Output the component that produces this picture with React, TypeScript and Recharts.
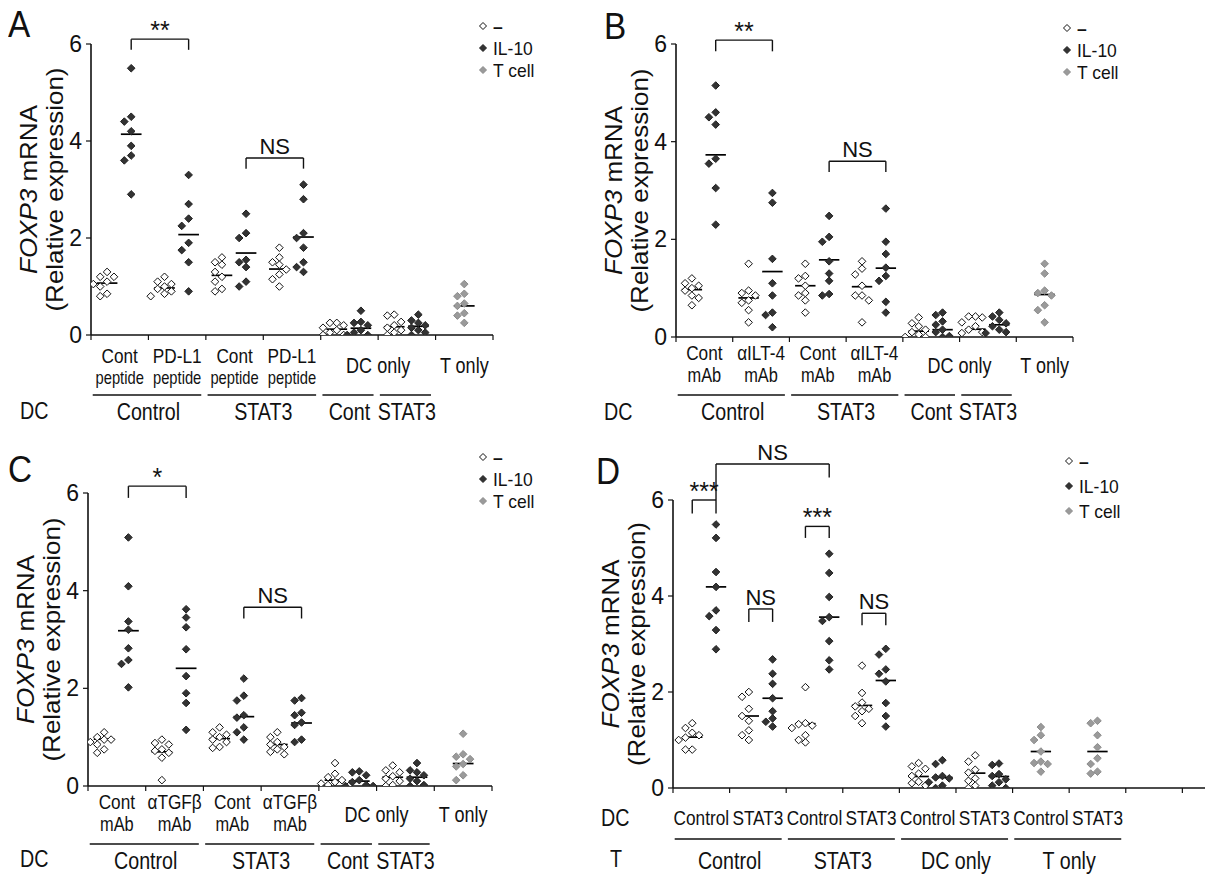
import React from 'react';
import { ScatterChart, Scatter, XAxis, YAxis, ReferenceLine, ReferenceDot } from 'recharts';

const FONT = "'Liberation Sans', Arial, Helvetica, sans-serif";
const SX = 0.82; // horizontal condensing of label text

// ---------------- Panel A ----------------
const A_NONE = [
  [1.3, 1.2, 1.2, 1.1, 1.05, 1.0, 0.85, 0.8],
  [1.2, 1.1, 1.05, 1.0, 0.95, 0.9, 0.85, 0.8],
  [1.6, 1.5, 1.45, 1.3, 1.2, 1.1, 0.95, 0.9],
  [1.8, 1.6, 1.5, 1.45, 1.35, 1.25, 1.15, 1.0],
  [0.25, 0.25, 0.2, 0.15, 0.1, 0.05, 0.0, 0.0],
  [0.42, 0.4, 0.27, 0.2, 0.15, 0.1, 0.05, 0.0],
];
const A_IL10 = [
  [5.5, 4.5, 4.4, 4.2, 3.9, 3.7, 3.6, 2.9],
  [3.3, 2.7, 2.4, 2.25, 1.9, 1.75, 1.5, 0.9],
  [2.5, 2.1, 2.0, 1.55, 1.5, 1.4, 1.1, 1.0],
  [3.1, 2.8, 2.1, 2.0, 1.8, 1.5, 1.4, 1.3],
  [0.5, 0.27, 0.25, 0.2, 0.1, 0.05, 0.0, 0.0],
  [0.42, 0.3, 0.25, 0.2, 0.15, 0.1, 0.05, 0.0],
];
const A_TCELL = [[1.05, 0.85, 0.8, 0.65, 0.6, 0.45, 0.4, 0.25]];
const A_NONE_MED = [1.07, 0.97, 1.23, 1.36, 0.12, 0.17];
const A_IL10_MED = [4.14, 2.07, 1.69, 2.02, 0.14, 0.18];
const A_TCELL_MED = [0.6];
const A_CATS = [['Cont', 'peptide'], ['PD-L1', 'peptide'], ['Cont', 'peptide'], ['PD-L1', 'peptide'], ['DC only'], ['T only']];
const A_GROUPS = ['Control', 'STAT3', 'Cont', 'STAT3'];
const A_BRACKETS = [
  { x1: 0.7, x2: 1.7, y: 6.1, l1: 5.88, l2: 5.88, text: '**' },
  { x1: 2.7, x2: 3.7, y: 3.65, l1: 3.43, l2: 3.43, text: 'NS' },
];

// ---------------- Panel B ----------------
const B_NONE = [
  [1.2, 1.1, 1.05, 1.0, 0.95, 0.85, 0.8, 0.65],
  [1.5, 0.95, 0.9, 0.85, 0.75, 0.7, 0.55, 0.3],
  [1.5, 1.25, 1.2, 1.05, 0.9, 0.85, 0.75, 0.5],
  [1.55, 1.4, 1.28, 1.05, 0.85, 0.85, 0.75, 0.3],
  [0.4, 0.28, 0.22, 0.15, 0.1, 0.05, 0.0, 0.0],
  [0.42, 0.42, 0.4, 0.3, 0.22, 0.15, 0.1, 0.08],
];
const B_IL10 = [
  [5.15, 4.6, 4.5, 4.35, 3.65, 3.55, 3.05, 2.3],
  [2.95, 2.75, 1.6, 1.1, 0.85, 0.5, 0.45, 0.2],
  [2.48, 2.05, 1.95, 1.55, 1.3, 1.15, 0.88, 0.85],
  [2.63, 1.95, 1.7, 1.42, 1.25, 1.15, 0.72, 0.5],
  [0.5, 0.45, 0.32, 0.25, 0.15, 0.1, 0.02, 0.0],
  [0.5, 0.42, 0.35, 0.28, 0.22, 0.15, 0.1, 0.08],
];
const B_TCELL = [[1.5, 1.3, 0.95, 0.9, 0.85, 0.65, 0.55, 0.3]];
const B_NONE_MED = [0.97, 0.8, 1.05, 1.03, 0.12, 0.16];
const B_IL10_MED = [3.73, 1.34, 1.58, 1.41, 0.15, 0.25];
const B_TCELL_MED = [0.87];
const B_CATS = [['Cont', 'mAb'], ['\u03b1ILT-4', 'mAb'], ['Cont', 'mAb'], ['\u03b1ILT-4', 'mAb'], ['DC only'], ['T only']];
const B_GROUPS = ['Control', 'STAT3', 'Cont', 'STAT3'];
const B_BRACKETS = [
  { x1: 0.7, x2: 1.7, y: 6.08, l1: 5.85, l2: 5.85, text: '**' },
  { x1: 2.7, x2: 3.7, y: 3.6, l1: 3.38, l2: 3.38, text: 'NS' },
];

// ---------------- Panel C ----------------
const C_NONE = [
  [1.1, 1.0, 0.95, 0.95, 0.9, 0.85, 0.75, 0.68],
  [0.95, 0.88, 0.85, 0.75, 0.72, 0.68, 0.58, 0.12],
  [1.2, 1.1, 1.05, 1.0, 0.95, 0.9, 0.8, 0.78],
  [1.1, 1.0, 0.9, 0.85, 0.8, 0.75, 0.7, 0.65],
  [0.47, 0.25, 0.18, 0.12, 0.08, 0.05, 0.02, 0.0],
  [0.42, 0.32, 0.28, 0.2, 0.15, 0.1, 0.02, 0.0],
];
const C_IL10 = [
  [5.09, 4.09, 3.37, 3.2, 2.82, 2.58, 2.5, 2.02],
  [3.62, 3.45, 3.25, 2.8, 2.25, 1.9, 1.7, 1.15],
  [2.2, 1.85, 1.75, 1.45, 1.4, 1.2, 1.1, 0.95],
  [1.8, 1.75, 1.5, 1.45, 1.3, 1.25, 0.95, 0.9],
  [0.3, 0.28, 0.22, 0.12, 0.08, 0.02, 0.0, 0.0],
  [0.47, 0.32, 0.28, 0.22, 0.15, 0.1, 0.02, 0.0],
];
const C_TCELL = [[1.07, 0.65, 0.6, 0.55, 0.45, 0.4, 0.22, 0.12]];
const C_NONE_MED = [0.96, 0.7, 0.97, 0.85, 0.12, 0.18];
const C_IL10_MED = [3.18, 2.41, 1.42, 1.29, 0.1, 0.18];
const C_TCELL_MED = [0.46];
const C_CATS = [['Cont', 'mAb'], ['\u03b1TGF\u03b2', 'mAb'], ['Cont', 'mAb'], ['\u03b1TGF\u03b2', 'mAb'], ['DC only'], ['T only']];
const C_GROUPS = ['Control', 'STAT3', 'Cont', 'STAT3'];
const C_BRACKETS = [
  { x1: 0.7, x2: 1.7, y: 6.14, l1: 5.9, l2: 5.9, text: '*' },
  { x1: 2.7, x2: 3.7, y: 3.66, l1: 3.43, l2: 3.43, text: 'NS' },
];

// ---------------- Panel D ----------------
const D_NONE = [
  [1.35, 1.25, 1.15, 1.1, 1.05, 1.0, 0.8, 0.8],
  [2.0, 1.9, 1.65, 1.5, 1.4, 1.2, 1.1, 1.0],
  [2.1, 1.35, 1.33, 1.3, 1.25, 1.1, 1.0, 0.95],
  [2.55, 1.98, 1.78, 1.7, 1.65, 1.6, 1.5, 1.35],
  [0.52, 0.45, 0.4, 0.3, 0.25, 0.13, 0.1, 0.05],
  [0.68, 0.55, 0.38, 0.32, 0.2, 0.15, 0.05, 0.0],
];
const D_IL10 = [
  [5.49, 5.21, 4.5, 4.19, 3.7, 3.58, 3.29, 2.89],
  [2.68, 2.38, 2.17, 1.87, 1.6, 1.45, 1.38, 1.28],
  [4.88, 4.48, 3.98, 3.56, 3.48, 3.06, 2.66, 2.47],
  [2.9, 2.78, 2.47, 2.38, 2.22, 1.77, 1.5, 1.28],
  [0.58, 0.5, 0.25, 0.22, 0.2, 0.12, 0.05, 0.0],
  [0.51, 0.48, 0.29, 0.25, 0.18, 0.12, 0.05, 0.0],
];
const D_TCELL = [
  [1.27, 1.1, 1.0, 0.76, 0.55, 0.52, 0.5, 0.34],
  [1.4, 1.35, 1.1, 0.85, 0.62, 0.5, 0.34, 0.3],
];
const D_NONE_MED = [1.06, 1.5, 1.34, 1.72, 0.24, 0.31];
const D_IL10_MED = [4.19, 1.87, 3.56, 2.24, 0.22, 0.24];
const D_TCELL_MED = [0.76, 0.76];
const D_CATS = [['Control'], ['STAT3'], ['Control'], ['STAT3'], ['Control'], ['STAT3'], ['Control'], ['STAT3']];
const D_GROUPS = ['Control', 'STAT3', 'DC only', 'T only'];
const D_BRACKETS = [
  { x1: 0.34, x2: 0.76, y: 6.0, l1: 5.72, l2: 5.72, text: '***' },
  { x1: 0.76, x2: 2.76, y: 6.75, l1: 6.0, l2: 6.47, text: 'NS' },
  { x1: 1.34, x2: 1.76, y: 3.73, l1: 3.46, l2: 3.46, text: 'NS' },
  { x1: 2.34, x2: 2.76, y: 5.45, l1: 5.21, l2: 5.21, text: '***' },
  { x1: 3.34, x2: 3.76, y: 3.64, l1: 3.39, l2: 3.39, text: 'NS' },
];

const LEGEND_LABELS = ['\u2013', 'IL-10', 'T cell'];
const Y_TICKS = [0, 2, 4, 6];

// ---------------- helpers ----------------
type Pt = { x: number; y: number };

function swarm(values: number[], center: number, dy = 0.15, dx = 0.12): Pt[] {
  const placed: Pt[] = [];
  const sorted = [...values].sort((a, b) => b - a);
  const cands = [0, -1, 1, -2, 2, -3, 3];
  for (const v of sorted) {
    let done = false;
    for (const c of cands) {
      const x = center + c * dx;
      const ok = placed.every((p) => Math.abs(p.y - v) >= dy || Math.abs(p.x - x) >= dx * 0.99);
      if (ok) {
        placed.push({ x, y: v });
        done = true;
        break;
      }
    }
    if (!done) placed.push({ x: center, y: v });
  }
  return placed;
}

const makeDiamond = (fill: string, stroke: string, r = 3.8) => (props: any) => {
  const { cx, cy } = props;
  if (cx == null || cy == null) return <g />;
  return (
    <polygon
      points={`${cx},${cy - r} ${cx + r},${cy} ${cx},${cy + r} ${cx - r},${cy}`}
      fill={fill}
      stroke={stroke}
      strokeWidth={1}
    />
  );
};
const OPEN = makeDiamond('#ffffff', '#111111');
const FILLED = makeDiamond('#333333', '#222222');
const GREY = makeDiamond('#9a9a9a', '#8c8c8c');

type Line = { s: string; dy: number; size: number };
const CText = ({ x, y, lines }: { x: number; y: number; lines: Line[] }) => (
  <text
    x={0}
    y={0}
    transform={`translate(${x},${y}) scale(${SX},1)`}
    textAnchor="middle"
    dominantBaseline="central"
    fill="#111"
  >
    {lines.map((l, i) => (
      <tspan key={i} x={0} y={l.dy} fontSize={l.size}>
        {l.s}
      </tspan>
    ))}
  </text>
);

type Bracket = { x1: number; x2: number; y: number; l1: number; l2: number; text: string };
type Lab = { l1: number; l2: number; mid: number; ul: number; grp: number; fs1: number; fs2: number; fsMid: number; fsGrp: number };

type PanelProps = {
  left: number;
  top: number;
  width: number;
  height: number;
  plotLeft: number;
  plotRight: number;
  plotTop: number;
  plotBottom: number;
  xMax: number;
  xTicks: number[];
  none: number[][];
  il10: number[][];
  tcell: number[][];
  noneMed: number[];
  il10Med: number[];
  tcellMed: number[];
  noneOff: number;
  il10Off: number;
  tcellPos: number[];
  cats: string[][];
  catPos: number[];
  groups: string[];
  groupSpans: number[][];
  groupCenters: number[];
  brackets: Bracket[];
  lab: Lab;
};

const H_AXIS = 96;
const YW = 60;

function Panel(p: PanelProps) {
  const ppu = (p.plotRight - p.plotLeft) / p.xMax;
  const noneData: Pt[] = [];
  const il10Data: Pt[] = [];
  const tData: Pt[] = [];
  p.none.forEach((vals, i) => noneData.push(...swarm(vals, i + p.noneOff)));
  p.il10.forEach((vals, i) => il10Data.push(...swarm(vals, i + p.il10Off)));
  p.tcell.forEach((vals, i) => tData.push(...swarm(vals, p.tcellPos[i])));

  const medians: { x: number; y: number }[] = [];
  p.noneMed.forEach((m, i) => medians.push({ x: i + p.noneOff, y: m }));
  p.il10Med.forEach((m, i) => medians.push({ x: i + p.il10Off, y: m }));
  p.tcellMed.forEach((m, i) => medians.push({ x: p.tcellPos[i], y: m }));

  const margin = {
    top: p.plotTop - p.top,
    right: p.left + p.width - p.plotRight,
    left: p.plotLeft - p.left - YW,
    bottom: p.top + p.height - p.plotBottom - H_AXIS,
  };

  const allTicks = Array.from(new Set([...p.xTicks, ...p.catPos, ...p.groupCenters])).sort((a, b) => a - b);

  const AxisTick = (props: any) => {
    const { x, y, payload } = props;
    const v = payload.value;
    const base = y;
    const els: React.ReactNode[] = [];
    if (p.xTicks.includes(v)) {
      els.push(<line key="t" x1={x} x2={x} y1={base} y2={base + 5} stroke="#111" strokeWidth={1.2} />);
    }
    const ci = p.catPos.indexOf(v);
    if (ci >= 0) {
      const lines = p.cats[ci];
      if (lines.length === 2) {
        els.push(
          <CText key="c1" x={x} y={base} lines={[{ s: lines[0], dy: p.lab.l1, size: p.lab.fs1 }]} />,
          <CText key="c2" x={x} y={base} lines={[{ s: lines[1], dy: p.lab.l2, size: p.lab.fs2 }]} />
        );
      } else {
        els.push(<CText key="c0" x={x} y={base} lines={[{ s: lines[0], dy: p.lab.mid, size: p.lab.fsMid }]} />);
      }
    }
    const gi = p.groupCenters.indexOf(v);
    if (gi >= 0) {
      const [s, e] = p.groupSpans[gi];
      const x0 = x + (s + 0.03 - v) * ppu;
      const x1 = x + (e - 0.08 - v) * ppu;
      els.push(
        <line key="u" x1={x0} x2={x1} y1={base + p.lab.ul} y2={base + p.lab.ul} stroke="#111" strokeWidth={1.4} />,
        <CText key="g" x={x} y={base} lines={[{ s: p.groups[gi], dy: p.lab.grp, size: p.lab.fsGrp }]} />
      );
    }
    return <g>{els}</g>;
  };

  const YLabel = (props: any) => {
    const vb = props.viewBox || { x: 0, y: 0, width: 0, height: 0 };
    const ax = vb.x + vb.width;
    const cy = vb.y + vb.height / 2;
    return (
      <g>
        <text transform={`translate(${ax - 63},${cy}) rotate(-90) scale(1,0.9)`} textAnchor="middle" dominantBaseline="central" fontSize={26} fill="#111">
          <tspan fontStyle="italic">FOXP3</tspan>
          <tspan> mRNA</tspan>
        </text>
        <text transform={`translate(${ax - 36},${cy}) rotate(-90) scale(1,0.9)`} textAnchor="middle" dominantBaseline="central" fontSize={26} fill="#111">
          (Relative expression)
        </text>
      </g>
    );
  };

  return (
    <div style={{ position: 'absolute', left: p.left, top: p.top }}>
      <ScatterChart width={p.width} height={p.height} margin={margin}>
        <XAxis
          xAxisId="main"
          type="number"
          dataKey="x"
          domain={[0, p.xMax]}
          ticks={allTicks}
          allowDataOverflow
          interval={0}
          height={H_AXIS}
          tickSize={0}
          tickMargin={0}
          tick={AxisTick}
          axisLine={{ stroke: '#111', strokeWidth: 1.6 }}
          tickLine={false}
        />
        <YAxis
          type="number"
          dataKey="y"
          domain={[0, 6]}
          ticks={Y_TICKS}
          allowDataOverflow
          width={YW}
          tickSize={5}
          tickMargin={4}
          tick={{ fontSize: 23, fill: '#111' }}
          axisLine={{ stroke: '#111', strokeWidth: 1.6 }}
          tickLine={{ stroke: '#111', strokeWidth: 1.2 }}
          label={{ content: YLabel }}
        />
        <Scatter xAxisId="main" name="-" data={noneData} shape={OPEN} isAnimationActive={false} />
        <Scatter xAxisId="main" name="IL-10" data={il10Data} shape={FILLED} isAnimationActive={false} />
        <Scatter xAxisId="main" name="T cell" data={tData} shape={GREY} isAnimationActive={false} />
        {medians.map((m, i) => (
          <ReferenceLine
            key={`m${i}`}
            xAxisId="main"
            segment={[{ x: m.x - 0.18, y: m.y }, { x: m.x + 0.18, y: m.y }]}
            stroke="#000"
            strokeWidth={1.7}
            ifOverflow="visible"
          />
        ))}
        {p.brackets.map((b, i) => [
          <ReferenceLine key={`bl${i}`} xAxisId="main" segment={[{ x: b.x1, y: b.l1 }, { x: b.x1, y: b.y }]} stroke="#111" strokeWidth={1.4} ifOverflow="visible" />,
          <ReferenceLine key={`bt${i}`} xAxisId="main" segment={[{ x: b.x1, y: b.y }, { x: b.x2, y: b.y }]} stroke="#111" strokeWidth={1.4} ifOverflow="visible" />,
          <ReferenceLine key={`br${i}`} xAxisId="main" segment={[{ x: b.x2, y: b.y }, { x: b.x2, y: b.l2 }]} stroke="#111" strokeWidth={1.4} ifOverflow="visible" />,
          <ReferenceDot
            key={`bd${i}`}
            xAxisId="main"
            x={(b.x1 + b.x2) / 2}
            y={b.y}
            r={0}
            fill="none"
            stroke="none"
            ifOverflow="visible"
            label={{ value: b.text, position: 'top', offset: b.text === 'NS' ? 4 : 0, fontSize: b.text === 'NS' ? 22 : 25, fill: '#111' }}
          />,
        ])}
      </ScatterChart>
    </div>
  );
}

const Legend3 = ({ x, y, gap }: { x: number; y: number; gap: number }) => {
  const shapes = [
    { fill: '#fff', stroke: '#111' },
    { fill: '#333', stroke: '#222' },
    { fill: '#9a9a9a', stroke: '#8c8c8c' },
  ];
  return (
    <div style={{ position: 'absolute', left: x, top: y }}>
      {LEGEND_LABELS.map((t, i) => (
        <div key={t} style={{ position: 'absolute', left: 0, top: i * gap, height: 20, whiteSpace: 'nowrap', display: 'flex', alignItems: 'center' }}>
          <svg width={10} height={10} style={{ marginRight: 5 }}>
            <polygon points="5,1.5 8.5,5 5,8.5 1.5,5" fill={shapes[i].fill} stroke={shapes[i].stroke} strokeWidth={1} />
          </svg>
          <span
            style={{
              display: 'inline-block',
              fontSize: 19,
              lineHeight: '19px',
              color: '#111',
              fontWeight: i === 0 ? 700 : 400,
              transform: 'scaleX(0.92)',
              transformOrigin: 'left center',
            }}
          >
            {t}
          </span>
        </div>
      ))}
    </div>
  );
};

const Txt = ({ x, y, s, size, sx = 1 }: { x: number; y: number; s: string; size: number; sx?: number }) => (
  <div
    style={{
      position: 'absolute',
      left: x,
      top: y,
      fontSize: size,
      lineHeight: 1,
      color: '#111',
      whiteSpace: 'nowrap',
      transform: `scaleX(${sx})`,
      transformOrigin: 'left top',
    }}
  >
    {s}
  </div>
);

const STD_CAT_POS = [0.5, 1.5, 2.5, 3.5, 5, 6.5];
const STD_GROUP_SPANS = [[0, 2], [2, 4], [4, 5], [5, 6]];
const STD_GROUP_CENTERS = [1, 3, 4.5, 5.5];
const STD_TICKS = [0, 1, 2, 3, 4, 5, 6, 7];
const D_CAT_POS = [0.5, 1.5, 2.5, 3.5, 4.5, 5.5, 6.5, 7.5];
const D_GROUP_SPANS = [[0, 2], [2, 4], [4, 6], [6, 8]];
const D_GROUP_CENTERS = [1, 3, 5, 7];
const D_TICKS = [0, 1, 2, 3, 4, 5, 6, 7, 8, 9];

export default function App() {
  const labA: Lab = { l1: 20, l2: 42, mid: 30, ul: 60, grp: 76, fs1: 21, fs2: 18, fsMid: 22, fsGrp: 24 };
  const labB: Lab = { l1: 15, l2: 37, mid: 28, ul: 58, grp: 74, fs1: 21, fs2: 20, fsMid: 22, fsGrp: 24 };
  const labD: Lab = { l1: 17, l2: 35, mid: 29, ul: 51, grp: 72, fs1: 21, fs2: 21, fsMid: 21, fsGrp: 24 };
  return (
    <div style={{ position: 'absolute', left: 0, top: 0, width: 1205, height: 874, background: '#fff', fontFamily: FONT, overflow: 'hidden' }}>
      <Panel
        left={0} top={0} width={600} height={430}
        plotLeft={91} plotRight={493} plotTop={44} plotBottom={335}
        xMax={7} xTicks={STD_TICKS}
        none={A_NONE} il10={A_IL10} tcell={A_TCELL}
        noneMed={A_NONE_MED} il10Med={A_IL10_MED} tcellMed={A_TCELL_MED}
        noneOff={0.28} il10Off={0.7} tcellPos={[6.5]}
        cats={A_CATS} catPos={STD_CAT_POS}
        groups={A_GROUPS} groupSpans={STD_GROUP_SPANS} groupCenters={STD_GROUP_CENTERS}
        brackets={A_BRACKETS} lab={labA}
      />
      <Panel
        left={570} top={0} width={635} height={430}
        plotLeft={676} plotRight={1073} plotTop={44} plotBottom={337}
        xMax={7} xTicks={STD_TICKS}
        none={B_NONE} il10={B_IL10} tcell={B_TCELL}
        noneMed={B_NONE_MED} il10Med={B_IL10_MED} tcellMed={B_TCELL_MED}
        noneOff={0.28} il10Off={0.7} tcellPos={[6.5]}
        cats={B_CATS} catPos={STD_CAT_POS}
        groups={B_GROUPS} groupSpans={STD_GROUP_SPANS} groupCenters={STD_GROUP_CENTERS}
        brackets={B_BRACKETS} lab={labB}
      />
      <Panel
        left={0} top={430} width={600} height={444}
        plotLeft={88} plotRight={492} plotTop={493} plotBottom={786}
        xMax={7} xTicks={STD_TICKS}
        none={C_NONE} il10={C_IL10} tcell={C_TCELL}
        noneMed={C_NONE_MED} il10Med={C_IL10_MED} tcellMed={C_TCELL_MED}
        noneOff={0.28} il10Off={0.7} tcellPos={[6.5]}
        cats={C_CATS} catPos={STD_CAT_POS}
        groups={C_GROUPS} groupSpans={STD_GROUP_SPANS} groupCenters={STD_GROUP_CENTERS}
        brackets={C_BRACKETS} lab={labB}
      />
      <Panel
        left={570} top={430} width={635} height={444}
        plotLeft={673} plotRight={1205} plotTop={500} plotBottom={788}
        xMax={9.4} xTicks={D_TICKS}
        none={D_NONE} il10={D_IL10} tcell={D_TCELL}
        noneMed={D_NONE_MED} il10Med={D_IL10_MED} tcellMed={D_TCELL_MED}
        noneOff={0.34} il10Off={0.76} tcellPos={[6.5, 7.5]}
        cats={D_CATS} catPos={D_CAT_POS}
        groups={D_GROUPS} groupSpans={D_GROUP_SPANS} groupCenters={D_GROUP_CENTERS}
        brackets={D_BRACKETS} lab={labD}
      />
      <Txt x={8} y={6} s="A" size={37} sx={0.9} />
      <Txt x={604} y={8} s="B" size={37} sx={0.9} />
      <Txt x={8} y={451} s="C" size={37} sx={0.9} />
      <Txt x={596} y={453} s="D" size={37} sx={0.9} />
      <Txt x={20} y={399} s="DC" size={24} sx={SX} />
      <Txt x={604} y={400} s="DC" size={24} sx={SX} />
      <Txt x={20} y={847} s="DC" size={24} sx={SX} />
      <Txt x={601} y={806} s="DC" size={24} sx={SX} />
      <Txt x={610} y={847} s="T" size={24} sx={SX} />
      <Legend3 x={478} y={16} gap={22} />
      <Legend3 x={1062} y={18} gap={22} />
      <Legend3 x={478} y={447} gap={22} />
      <Legend3 x={1064} y={451} gap={25} />
    </div>
  );
}
